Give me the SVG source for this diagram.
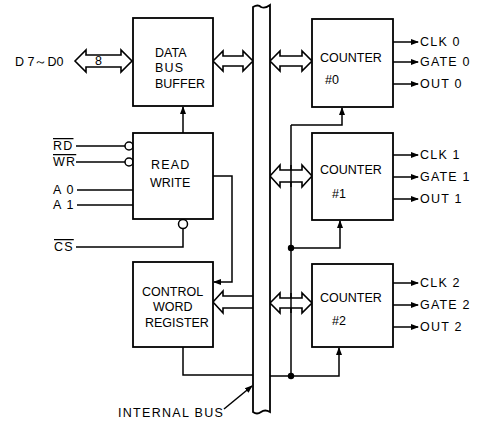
<svg xmlns="http://www.w3.org/2000/svg" width="480" height="422" viewBox="0 0 480 422">
<defs>
<style>
.box{fill:#fff;stroke:#000;stroke-width:1.8}
.ln{fill:none;stroke:#000;stroke-width:1.5}
.dbl{fill:#fff;stroke:#000;stroke-width:1.6;stroke-linejoin:miter}
.t{font-family:"Liberation Sans",Arial,sans-serif;font-size:12.5px;fill:#000}
.s{letter-spacing:1.2px}
.ol{text-decoration:overline}
</style>
<marker id="ah" markerWidth="8" markerHeight="8" refX="7" refY="4" orient="auto" markerUnits="userSpaceOnUse">
<path d="M0,1 L8,4 L0,7 Z" fill="#000"/>
</marker>
</defs>
<rect width="480" height="422" fill="#fff"/>

<g id="connectors">
<line class="ln" x1="183" y1="133" x2="183" y2="107" marker-end="url(#ah)"/>
<line class="ln" x1="76" y1="146" x2="125" y2="146"/>
<circle class="ln" cx="129" cy="146" r="4" fill="#fff"/>
<line class="ln" x1="76" y1="162" x2="125" y2="162"/>
<circle class="ln" cx="129" cy="162" r="4" fill="#fff"/>
<line class="ln" x1="77" y1="190" x2="133" y2="190"/>
<line class="ln" x1="77" y1="205" x2="133" y2="205"/>
<circle class="ln" cx="183" cy="224" r="4.5" fill="#fff"/>
<polyline class="ln" points="183,228.5 183,247 76,247"/>
<polyline class="ln" points="213,176 232,176 232,282 214,282" marker-end="url(#ah)"/>
<polyline class="ln" points="183,347 183,375 253,375"/>
<polyline class="ln" points="270,376 339,376 339,348" marker-end="url(#ah)"/>
<line class="ln" x1="291" y1="125" x2="291" y2="376"/>
<polyline class="ln" points="291,125 342,125 342,108" marker-end="url(#ah)"/>
<polyline class="ln" points="291,248 340,248 340,221" marker-end="url(#ah)"/>
<circle cx="291" cy="248" r="3.2" fill="#000"/>
<circle cx="291" cy="376" r="3.2" fill="#000"/>
<line class="ln" x1="393" y1="42" x2="418" y2="42" marker-end="url(#ah)"/>
<line class="ln" x1="393" y1="62" x2="418" y2="62" marker-end="url(#ah)"/>
<line class="ln" x1="393" y1="84" x2="418" y2="84" marker-end="url(#ah)"/>
<line class="ln" x1="393" y1="155" x2="418" y2="155" marker-end="url(#ah)"/>
<line class="ln" x1="393" y1="177" x2="418" y2="177" marker-end="url(#ah)"/>
<line class="ln" x1="393" y1="199" x2="418" y2="199" marker-end="url(#ah)"/>
<line class="ln" x1="393" y1="283" x2="418" y2="283" marker-end="url(#ah)"/>
<line class="ln" x1="393" y1="305" x2="418" y2="305" marker-end="url(#ah)"/>
<line class="ln" x1="393" y1="327" x2="418" y2="327" marker-end="url(#ah)"/>
<path class="dbl" d="M75,61 L86,50 L86,55 L121,55 L121,50 L132,61 L121,72 L121,67 L86,67 L86,72 Z"/>
<path class="dbl" d="M213,61 L223,51 L223,56 L243,56 L243,51 L253,61 L243,71 L243,66 L223,66 L223,71 Z"/>
<path class="dbl" d="M270,61 L280,51 L280,56 L302,56 L302,51 L312,61 L302,71 L302,66 L280,66 L280,71 Z"/>
<path class="dbl" d="M270,176 L280,165 L280,170 L302,170 L302,165 L312,176 L302,187 L302,182 L280,182 L280,187 Z"/>
<path class="dbl" d="M270,303 L280,293 L280,298 L302,298 L302,293 L312,303 L302,313 L302,308 L280,308 L280,313 Z"/>
<path class="dbl" d="M253,296 L223,296 L223,291 L213,302 L223,313 L223,308 L253,308"/>
<line class="ln" x1="291" y1="165" x2="291" y2="187"/>
<line class="ln" x1="291" y1="293" x2="291" y2="313"/>
<path class="box" d="M253,412 L253,7 Q258,4 261,7 Q265,9 270,5 L270,412 Q265,409 261,412 Q257,415 253,412 Z"/>
<line class="ln" x1="224" y1="409" x2="252" y2="386" marker-end="url(#ah)"/>
</g>

<g id="dbb">
<rect class="box" x="133" y="18" width="80" height="88"/>
<text class="t" x="155" y="57">DATA</text>
<text class="t s" x="155" y="72">BUS</text>
<text class="t" x="155" y="88">BUFFER</text>
</g>
<g id="rw">
<rect class="box" x="133" y="133" width="80" height="86"/>
<text class="t s" x="151" y="169">READ</text>
<text class="t" x="150" y="187">WRITE</text>
</g>
<g id="cwr">
<rect class="box" x="133" y="262" width="80" height="85"/>
<text class="t" x="142" y="296">CONTROL</text>
<text class="t" x="153" y="311">WORD</text>
<text class="t" x="145" y="327">REGISTER</text>
</g>
<g id="c0">
<rect class="box" x="312" y="19" width="81" height="88"/>
<text class="t" x="320" y="62">COUNTER</text>
<text class="t" x="325" y="84">#0</text>
</g>
<g id="c1">
<rect class="box" x="312" y="133" width="81" height="87"/>
<text class="t" x="320" y="174">COUNTER</text>
<text class="t" x="332" y="198">#1</text>
</g>
<g id="c2">
<rect class="box" x="312" y="264" width="81" height="83"/>
<text class="t" x="320" y="302">COUNTER</text>
<text class="t" x="332" y="325">#2</text>
</g>

<g id="labels">
<text class="t" x="15" y="66">D 7～D0</text>
<text class="t" x="95" y="65">8</text>
<text class="t s" x="53" y="150"><tspan class="ol">RD</tspan></text>
<text class="t s" x="53" y="166"><tspan class="ol">WR</tspan></text>
<text class="t s" x="53" y="194">A 0</text>
<text class="t s" x="53" y="209">A 1</text>
<text class="t s" x="54" y="251"><tspan class="ol">CS</tspan></text>
<text class="t s" x="420" y="46">CLK 0</text>
<text class="t s" x="420" y="66">GATE 0</text>
<text class="t s" x="420" y="88">OUT 0</text>
<text class="t s" x="420" y="159">CLK 1</text>
<text class="t s" x="420" y="181">GATE 1</text>
<text class="t s" x="420" y="203">OUT 1</text>
<text class="t s" x="420" y="287">CLK 2</text>
<text class="t s" x="420" y="309">GATE 2</text>
<text class="t s" x="420" y="331">OUT 2</text>
<text class="t" x="118" y="417" style="letter-spacing:1.3px">INTERNAL BUS</text>
</g>
</svg>
